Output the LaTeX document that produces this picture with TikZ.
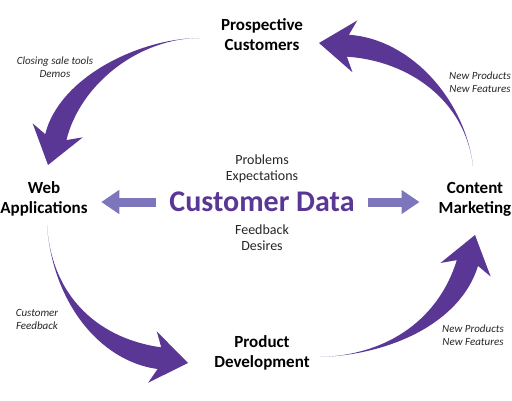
\documentclass[tikz,border=0pt]{standalone}
\usepackage{fontspec}
\setmainfont{Carlito}
\usetikzlibrary{positioning,arrows.meta,calc}
\definecolor{deeppurple}{HTML}{5A3794}
\definecolor{palepurple}{HTML}{7D76BC}

% tapered bent arrow: tail, control 1, control 2, head base, tip
\newcommand{\bentarrow}[5]{%
  \path ($(#4)!11pt!90:(#5)$) coordinate (sl)
        ($(#4)!11pt!-90:(#5)$) coordinate (sr)
        ($(#4)!-7pt!(#5)$) coordinate (bk)
        ($(bk)!26pt!90:(#5)$) coordinate (bl)
        ($(bk)!26pt!-90:(#5)$) coordinate (br);
  \fill[deeppurple] (#1) .. controls (#2) and ($(#3)+(sl)-(#4)$) .. (sl)
    -- (bl) -- (#5) -- (br) -- (sr)
    .. controls ($(#3)+(sr)-(#4)$) and (#2) .. (#1) -- cycle;
}

\begin{document}
\begin{tikzpicture}[x=1pt, y=-1pt,
  every node/.style={inner sep=0pt, align=center},
  stage/.style={font=\fontsize{17}{20}\selectfont\bfseries},
  note/.style={font=\fontsize{11}{13}\selectfont\itshape, text=black!85},
  topic/.style={font=\fontsize{14}{16}\selectfont, text=black!85},
  hub/.style={font=\fontsize{30}{36}\selectfont\bfseries, text=deeppurple},
  share/.style={palepurple, line width=9pt, -{Triangle[length=18pt,width=23pt]}},
]
  \useasboundingbox (0,0) rectangle (512,400);

  \node[stage] (pros) at (262,35)  {Prospective\\Customers};
  \node[stage] (web)  at (44,199)  {Web\\Applications};
  \node[stage] (cont) at (475,199) {Content\\Marketing};
  \node[stage] (prod) at (262,353) {Product\\Development};

  \node[hub]   (data) at (262,202) {Customer Data};
  \node[topic] (up)   at (262,169) {Problems\\Expectations};
  \node[topic] (down) at (262,238) {Feedback\\Desires};

  \node[note] (demo)  at (55,67)   {Closing sale tools\\Demos};
  \node[note] (newA)  at (480,82)  {New Products\\New Features};
  \node[note] (fback) at (37,319)  {Customer\\Feedback};
  \node[note] (newB)  at (473,335) {New Products\\New Features};

  % cycle arrows
  \coordinate (tailA) at (200,38);
  \coordinate (tipA)  at (48,165);
  \coordinate (tailB) at (473,166);
  \coordinate (tipB)  at (319,43);
  \coordinate (tailC) at (47,225);
  \coordinate (tipC)  at (188,363);
  \coordinate (tailD) at (320,357);
  \coordinate (tipD)  at (475,235);

  \bentarrow{tailA}{140,38}{70,80}{55.8,137.1}{tipA}
  \bentarrow{tailB}{465,100}{410,50}{347.9,45.7}{tipB}
  \bentarrow{tailC}{52,300}{100,350}{159.4,358.2}{tipC}
  \bentarrow{tailD}{390,355}{450,320}{467.4,263}{tipD}

  % data flows
  \draw[share, shorten <=13pt, shorten >=13.5pt] (data.west) -- (data.west -| web.east);
  \draw[share, shorten <=13pt, shorten >=19pt] (data.east) -- (data.east -| cont.west);
\end{tikzpicture}
\end{document}
